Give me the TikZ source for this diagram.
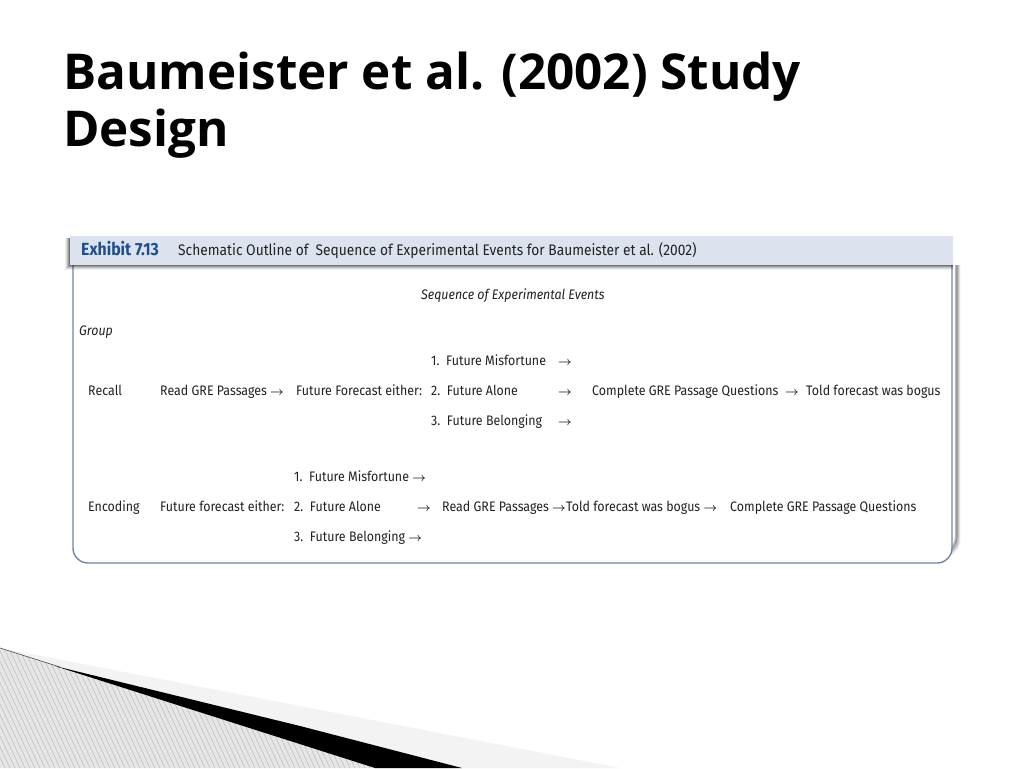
\documentclass[tikz,border=0pt]{standalone}
\usepackage{fontspec}
\setmainfont{Open Sans}
\newfontfamily\tabfont[FakeStretch=0.9]{Fira Sans}
\usetikzlibrary{calc}
\definecolor{hdrfill}{HTML}{DCE3EE}
\definecolor{boxline}{HTML}{6F86A8}
\definecolor{exblue}{HTML}{1F4E8C}
\definecolor{txtgray}{HTML}{222222}
\definecolor{hatchbg}{HTML}{E6E6E6}
\definecolor{hatchln}{HTML}{BBBBBB}
\definecolor{lightband}{HTML}{F3F3F3}
\newcommand{\arr}{{\fontsize{13}{14}\selectfont\boldmath$\rightarrow$}}
\begin{document}
\begin{tikzpicture}[x=1pt,y=-1pt,
  title/.style={anchor=base west,inner sep=0pt,font=\fontsize{49.4}{58}\selectfont\bfseries,text=black},
  cell/.style={anchor=base west,inner sep=0pt,font=\tabfont\fontsize{13.8}{16}\selectfont,text=txtgray},
  celli/.style={cell,font=\tabfont\itshape\fontsize{13.8}{16}\selectfont},
  capt/.style={cell,font=\tabfont\fontsize{15.3}{17}\selectfont},
  exlabel/.style={anchor=base west,inner sep=0pt,font=\tabfont\bfseries\fontsize{17.6}{19}\selectfont,text=exblue}]
\useasboundingbox (0,0) rectangle (1024,768);
\fill[white] (0,0) rectangle (1024,768);
% title
\node[title] (t1) at (63,89) {Baumeister et al. (2002) Study};
\node[title] (t2) at (63,146) {Design};
% box shadow
\foreach \o/\a in {4/0.08,3/0.12,2/0.18,1/0.25}{
  \draw[line width=2.5pt,black,opacity=\a,rounded corners=16pt] (76+\o,265) -- (76+\o,552+\o) -- (955+\o,552+\o) -- (955+\o,265);
}
% box
\draw[boxline,line width=1.4pt,fill=white,rounded corners=15pt] (73,262) -- (73,563) -- (952,563) -- (952,262);
% header shadow
\foreach \o/\a in {5/0.06,4/0.09,3/0.13,2/0.18,1/0.24}{
  \fill[black,opacity=\a] (70-\o,238) rectangle (953,265+\o);
}
\fill[hdrfill] (70,236) rectangle (953,265);
\node[exlabel] (ex) at (81,255) {Exhibit 7.13};
\node[capt] (cap) at (178,255) {Schematic Outline of\ \ Sequence of Experimental Events for Baumeister et al. (2002)};
\node[celli] (seq) at (421,299) {Sequence of Experimental Events};
\node[celli] (grp) at (79,335) {Group};
% Recall
\node[cell] (r1) at (431,365) {1.\ \ Future Misfortune};
\node[cell] (r1a) at (558,365) {\arr};
\node[cell] (rl) at (88,395) {Recall};
\node[cell] (rr) at (160,395) {Read GRE Passages \arr};
\node[cell] (rf) at (296,395) {Future Forecast either:};
\node[cell] (r2) at (431,395) {2.\ \ Future Alone};
\node[cell] (r2a) at (558,395) {\arr};
\node[cell] (rc) at (592,395) {Complete GRE Passage Questions};
\node[cell] (rca) at (785,395) {\arr};
\node[cell] (rt) at (806,395) {Told forecast was bogus};
\node[cell] (r3) at (431,425) {3.\ \ Future Belonging};
\node[cell] (r3a) at (558,425) {\arr};
% Encoding
\node[cell] (e1) at (294,481) {1.\ \ Future Misfortune \arr};
\node[cell] (el) at (88,511) {Encoding};
\node[cell] (ef) at (160,511) {Future forecast either:};
\node[cell] (e2) at (294,511) {2.\ \ Future Alone};
\node[cell] (e2a) at (417,511) {\arr};
\node[cell] (er) at (442,511) {Read GRE Passages \arr{}Told forecast was bogus \arr};
\node[cell] (ec) at (730,511) {Complete GRE Passage Questions};
\node[cell] (e3) at (294,541) {3.\ \ Future Belonging \arr};
% bottom decoration
\fill[lightband] (0,648) -- (620,768) -- (0,768) -- cycle;
\begin{scope}
  \clip (0,648) -- (60,667) -- (375,768) -- (0,768) -- cycle;
  \fill[hatchbg] (0,640) rectangle (400,768);
  \foreach \i in {-60,-55,...,400}{
    \draw[hatchln,line width=0.5pt] (\i,640) -- (\i+60,768);
  }
\end{scope}
\draw[black!70,line width=0.6pt] (0,648) -- (60,667);
\fill[black] (55,666) -- (300,726) -- (462,768) -- (375,768) -- cycle;
\end{tikzpicture}
\end{document}
